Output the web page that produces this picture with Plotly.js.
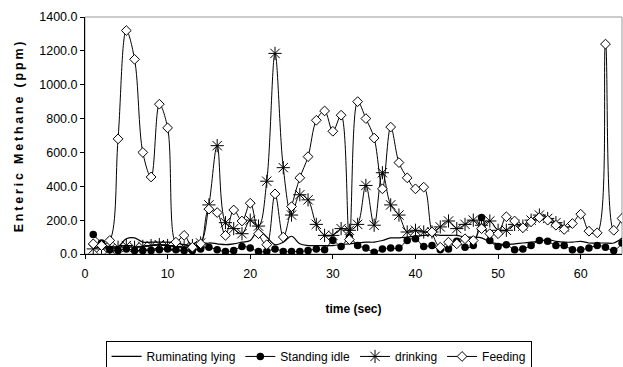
<!DOCTYPE html>
<html>
<head>
<meta charset="utf-8">
<script src="https://cdn.plot.ly/plotly-3.0.1.min.js"></script>
<style>
html,body{margin:0;padding:0;background:#fff;}
#chart{width:623px;height:367px;}
.ytitle{letter-spacing:2.8px;}
</style>
</head>
<body>
<div id="chart"></div>
<script>
// time (sec)
const timeSec = Array.from({length: 65}, (_, i) => i + 1);
const timeDrinking = timeSec.slice(0, 58);

const ruminatingLying = [60,50,45,45,90,95,70,70,70,70,65,55,50,50,65,60,55,60,70,80,140,100,55,70,105,60,50,50,50,50,55,60,65,70,70,80,95,95,100,105,110,115,110,110,110,100,100,95,70,60,55,60,65,70,75,85,75,70,70,75,65,65,65,65,95];

const standingIdle = [115,65,25,20,30,20,20,20,25,30,25,20,20,30,40,25,15,20,45,35,15,15,30,15,15,15,20,30,25,80,45,100,50,35,10,30,35,35,80,90,45,50,25,30,75,40,50,215,80,45,55,25,30,50,80,75,50,50,25,25,35,50,40,20,65];

const drinking = [30,40,30,40,50,40,45,50,55,50,45,40,50,65,290,640,185,150,120,200,165,430,1185,510,230,350,320,175,110,110,150,140,175,405,170,480,290,230,130,140,130,130,160,195,150,175,200,170,195,140,140,175,165,200,230,210,185,160];

const feeding = [60,50,80,680,1320,1150,600,455,885,745,70,110,40,60,265,245,110,260,195,300,120,55,355,100,280,450,575,790,845,725,820,85,900,800,685,385,750,540,450,385,395,130,40,70,60,90,80,150,120,120,220,195,155,190,215,200,170,145,180,235,135,125,1240,140,210];

const yTicks = [0,200,400,600,800,1000,1200,1400];
const yTickText = yTicks.map(v => v.toFixed(1));
const xTicks = [0,10,20,30,40,50,60];

const font = 'Liberation Sans, Arial, sans-serif';

const traces = [
  {x: timeSec, y: ruminatingLying, name: 'Ruminating lying', mode: 'lines',
   line: {color: '#000', width: 1.2, shape: 'spline', smoothing: 1}},
  {x: timeSec, y: standingIdle, name: 'Standing idle', mode: 'lines+markers',
   line: {color: '#000', width: 1, shape: 'spline', smoothing: 1},
   marker: {symbol: 'circle', size: 7.5, color: '#000'}},
  {x: timeDrinking, y: drinking, name: 'drinking', mode: 'lines+markers',
   line: {color: '#000', width: 1, shape: 'spline', smoothing: 1},
   marker: {symbol: 'asterisk-open', size: 11, color: '#000', line: {color: '#000', width: 1}}},
  {x: timeSec, y: feeding, name: 'Feeding', mode: 'lines+markers',
   line: {color: '#000', width: 1, shape: 'spline', smoothing: 1},
   marker: {symbol: 'diamond', size: 7.5, color: '#fff', line: {color: '#000', width: 1}}}
];

const layout = {
  width: 623, height: 367,
  margin: {l: 85, r: 1, t: 17, b: 113},
  paper_bgcolor: '#fff', plot_bgcolor: '#fff',
  font: {family: font, size: 12, color: '#000'},
  showlegend: true,
  legend: {orientation: 'h', x: 0.435, xanchor: 'center', yref: 'container', y: 0.071, yanchor: 'top',
    bordercolor: '#000', borderwidth: 1, font: {family: font, size: 12, color: '#000'},
    tracegroupgap: 0, itemwidth: 30},
  xaxis: {range: [0, 65], tickvals: xTicks, ticktext: xTicks.map(String), automargin: false,
    showgrid: false, zeroline: false, showline: true, linecolor: '#000', linewidth: 1,
    ticks: 'outside', ticklen: 4, tickcolor: '#000', ticklabelstandoff: 4,
    tickfont: {family: font, size: 12.5},
    title: {text: 'time (sec)', font: {family: font, size: 12, weight: 'bold'}, standoff: 24}},
  yaxis: {range: [0, 1400], tickvals: yTicks, ticktext: yTickText, automargin: false,
    showgrid: false, zeroline: false, showline: true, linecolor: '#000', linewidth: 1,
    ticks: 'outside', ticklen: 4, tickcolor: '#000',
    tickfont: {family: font, size: 12.5},
    title: {text: 'Enteric Methane (ppm)', font: {family: font, size: 12.5, weight: 'bold'}, standoff: 12}},
  shapes: [{type: 'rect', xref: 'paper', yref: 'paper', x0: 0, x1: 1, y0: 0, y1: 1,
    line: {color: '#999', width: 1}, layer: 'below'}]
};

Plotly.newPlot('chart', traces, layout, {displayModeBar: false, staticPlot: true});
</script>
</body>
</html>
